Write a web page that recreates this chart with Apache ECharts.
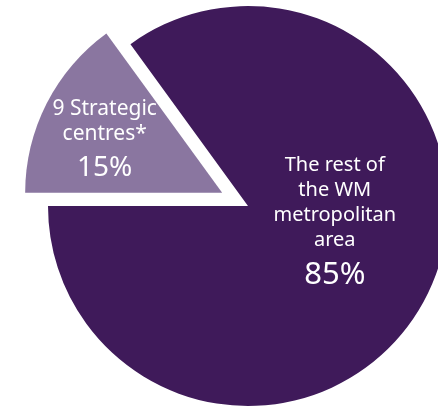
<!DOCTYPE html>
<html>
<head>
<meta charset="utf-8">
<style>
  html, body { margin: 0; padding: 0; background: #ffffff; }
  #chart { width: 438px; height: 408px; }
</style>
<script src="https://cdn.jsdelivr.net/npm/echarts@6/dist/echarts.min.js"></script>
</head>
<body>
<div id="chart"></div>
<script>
// share of the metropolitan area
const names = ['9 Strategic\ncentres*', 'The rest of\nthe WM\nmetropolitan\narea'];
const values = [15, 85];
const colours = ['#8a76a0', '#3f1a5a'];
// the pulled-out slice is drawn a touch smaller than the main one
const radii = [197, 200];
// label nudges from the default inside position
const labelShift = [[-27, -4], [-5, -28]];

const chart = echarts.init(document.getElementById('chart'));

const rich = {
  t0: { fontSize: 21, lineHeight: 25, color: '#ffffff', fontFamily: 'Noto Sans', align: 'center' },
  v0: { fontSize: 28, lineHeight: 42, color: '#ffffff', fontFamily: 'Noto Sans', align: 'center' },
  t1: { fontSize: 20, lineHeight: 25, color: '#ffffff', fontFamily: 'Noto Sans', align: 'center' },
  v1: { fontSize: 31, lineHeight: 44, color: '#ffffff', fontFamily: 'Noto Sans', align: 'center' }
};

// one series per slice so each can have its own radius; the other slice is left invisible
function sliceSeries(k) {
  return {
    type: 'pie',
    center: [248, 206],
    radius: radii[k],
    startAngle: 180,
    clockwise: true,
    selectedMode: 'single',
    selectedOffset: 29,
    emphasis: { disabled: true },
    silent: true,
    label: {
      show: true,
      position: 'inside',
      color: '#ffffff',
      fontFamily: 'Noto Sans',
      align: 'center',
      formatter: p => p.dataIndex === k
        ? p.name.split('\n').map(s => `{t${k}|${s}}`).join('\n') + `\n{v${k}|${p.value}%}`
        : '',
      rich
    },
    labelLine: { show: false },
    labelLayout: p => ({ dx: labelShift[p.dataIndex][0], dy: labelShift[p.dataIndex][1] }),
    data: names.map((n, i) => ({
      name: n,
      value: values[i],
      selected: i === 0,
      itemStyle: { color: i === k ? colours[i] : 'rgba(0,0,0,0)' }
    }))
  };
}

chart.setOption({
  animation: false,
  series: [sliceSeries(1), sliceSeries(0)]
});
</script>
</body>
</html>
